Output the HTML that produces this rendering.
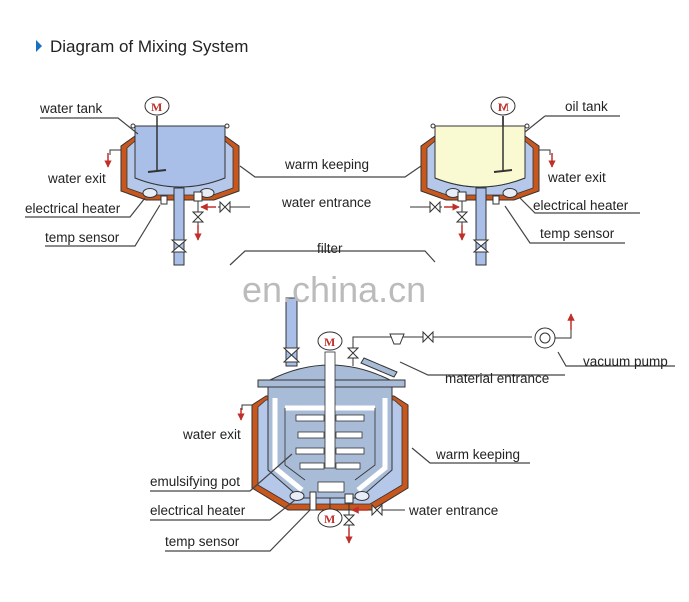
<!DOCTYPE html>
<html><head><style>
body{margin:0;background:#fff}
svg{display:block}
text{font-family:"Liberation Sans",sans-serif;font-size:13.5px;fill:#222}
</style></head><body>
<svg width="689" height="602" viewBox="0 0 689 602" xmlns="http://www.w3.org/2000/svg">
<defs>
<marker id="ar" viewBox="0 0 10 10" refX="9" refY="5" markerWidth="5" markerHeight="5" orient="auto"><path d="M0,0L10,5L0,10z" fill="#c0302a"/></marker>
<g id="tank">
  <path d="M135,136 L121,146 L121,191 L146,200 L214,200 L239,191 L239,146 L225,136Z" fill="#c8571e" stroke="#333" stroke-width="1"/>
  <path d="M135,141 L127,148 L127,188 L147,195 L213,195 L233,188 L233,148 L225,141Z" fill="#b5c8ea" stroke="#333" stroke-width="0.8"/>
  <path d="M135,126 L225,126 L225,178 Q180,196 135,178Z" fill="#a9bfe8" stroke="#333" stroke-width="1"/>
  <circle cx="133" cy="126" r="2" fill="#fff" stroke="#333"/><circle cx="227" cy="126" r="2" fill="#fff" stroke="#333"/>
  <ellipse cx="150" cy="193" rx="7" ry="4.5" fill="#e8eef8" stroke="#333"/>
  <ellipse cx="207" cy="193" rx="7" ry="4.5" fill="#e8eef8" stroke="#333"/>
  <rect x="174" y="188" width="10" height="77" fill="#a9bfe8" stroke="#333"/>
  <path d="M172,240 L186,252 L172,252 L186,240Z" fill="#fff" stroke="#333"/>
  <line x1="157" y1="116" x2="157" y2="172" stroke="#333" stroke-width="1.5"/>
  <line x1="148" y1="172" x2="166" y2="170" stroke="#333" stroke-width="2"/>
  <ellipse cx="157" cy="106" rx="12" ry="9" fill="#fff" stroke="#333"/>
  <text x="151" y="111" style="font-family:'Liberation Serif';font-size:12px;font-weight:bold;fill:#c0302a">M</text>
  <path d="M121,150 L110,150 L110,155" fill="none" stroke="#333"/>
  <line x1="108" y1="153" x2="108" y2="167" stroke="#c0302a" stroke-width="1.5" marker-end="url(#ar)"/>
  <rect x="161" y="196" width="6" height="8" fill="#fff" stroke="#333"/>
  <rect x="194" y="192" width="8" height="9" fill="#fff" stroke="#333"/>
  <line x1="198" y1="201" x2="198" y2="225" stroke="#333"/>
  <path d="M193,212 L203,222 L193,222 L203,212Z" fill="#fff" stroke="#333"/>
  <line x1="198" y1="225" x2="198" y2="240" stroke="#c0302a" stroke-width="1.5" marker-end="url(#ar)"/>
  <line x1="218" y1="207" x2="250" y2="207" stroke="#333"/>
  <path d="M220,202 L230,212 L230,202 L220,212Z" fill="#fff" stroke="#333"/>
  <line x1="216" y1="207" x2="201" y2="207" stroke="#c0302a" stroke-width="1.5" marker-end="url(#ar)"/>
</g>
</defs>

<path d="M36,40 L42,46 L36,52Z" fill="#1a6fc0"/>
<text x="50" y="52" style="font-size:17px">Diagram of Mixing System</text>

<use href="#tank"/>
<g transform="translate(660,0) scale(-1,1)"><use href="#tank"/></g>
<path d="M435,126 L525,126 L525,178 Q480,196 435,178Z" fill="#fafad2" stroke="#333"/>
<line x1="503" y1="116" x2="503" y2="172" stroke="#333" stroke-width="1.5"/>
<line x1="494" y1="172" x2="512" y2="170" stroke="#333" stroke-width="2"/>

<!-- bottom pot -->
<rect x="286" y="298" width="11" height="68" fill="#a9bfe8" stroke="#333"/>
<path d="M284,348 L299,362 L284,362 L299,348Z" fill="#fff" stroke="#333"/>
<path d="M266,396 L252,405 L252,488 L288,510 L372,510 L408,488 L408,405 L394,396Z" fill="#c8571e" stroke="#333"/>
<path d="M266,400 L258,407 L258,485 L290,504 L370,504 L402,485 L402,407 L394,400Z" fill="#b5c8ea" stroke="#333" stroke-width="0.8"/>
<path d="M268,387 L392,387 L392,470 L360,498 L300,498 L268,470Z" fill="#a8bcd8" stroke="#333"/>
<path d="M270,380 Q330,350 390,380Z" fill="#a8bcd8" stroke="#333"/>
<rect x="258" y="380" width="147" height="7" fill="#a8bcd8" stroke="#333"/>
<path d="M275,398 L275,468 L302,490 M385,398 L385,468 L358,490" fill="none" stroke="#fff" stroke-width="5"/>
<path d="M285,408 L375,408" fill="none" stroke="#fff" stroke-width="5"/>
<path d="M285,408 L285,465 L305,480 M375,408 L375,465 L355,480" fill="none" stroke="#333" stroke-width="0.8"/>
<g fill="#fff" stroke="#333" stroke-width="0.8">
<rect x="296" y="415" width="28" height="6"/><rect x="336" y="415" width="28" height="6"/>
<rect x="298" y="432" width="26" height="6"/><rect x="336" y="432" width="26" height="6"/>
<rect x="296" y="448" width="28" height="6"/><rect x="336" y="448" width="28" height="6"/>
<rect x="300" y="463" width="24" height="6"/><rect x="336" y="463" width="24" height="6"/>
<rect x="318" y="482" width="26" height="10"/>
<rect x="325" y="352" width="10" height="116"/>
</g>
<ellipse cx="330" cy="341" rx="12" ry="9" fill="#fff" stroke="#333"/>
<text x="324" y="346" style="font-family:'Liberation Serif';font-size:12px;font-weight:bold;fill:#c0302a">M</text>
<ellipse cx="297" cy="496" rx="7" ry="4.5" fill="#e8eef8" stroke="#333"/>
<ellipse cx="362" cy="496" rx="7" ry="4.5" fill="#e8eef8" stroke="#333"/>
<rect x="310" y="492" width="6" height="18" fill="#fff" stroke="#333"/>
<line x1="330" y1="498" x2="330" y2="510" stroke="#333"/>
<ellipse cx="330" cy="518" rx="12" ry="9" fill="#fff" stroke="#333"/>
<text x="324" y="523" style="font-family:'Liberation Serif';font-size:12px;font-weight:bold;fill:#c0302a">M</text>
<rect x="345" y="494" width="8" height="9" fill="#fff" stroke="#333"/>
<line x1="349" y1="503" x2="349" y2="528" stroke="#333"/>
<path d="M344,515 L354,525 L344,525 L354,515Z" fill="#fff" stroke="#333"/>
<line x1="349" y1="528" x2="349" y2="543" stroke="#c0302a" stroke-width="1.5" marker-end="url(#ar)"/>
<line x1="370" y1="510" x2="405" y2="510" stroke="#333"/>
<path d="M372,505 L382,515 L382,505 L372,515Z" fill="#fff" stroke="#333"/>
<line x1="368" y1="510" x2="352" y2="510" stroke="#c0302a" stroke-width="1.5" marker-end="url(#ar)"/>
<path d="M252,405 L242,405 L242,410" fill="none" stroke="#333"/>
<line x1="241" y1="408" x2="241" y2="420" stroke="#c0302a" stroke-width="1.5" marker-end="url(#ar)"/>
<!-- vacuum line -->
<path d="M353,366 L353,337 L532,337" fill="none" stroke="#333"/>
<path d="M348,348 L358,358 L348,358 L358,348Z" fill="#fff" stroke="#333"/>
<path d="M390,334 L404,334 L400,344 L394,344Z" fill="#fff" stroke="#333"/>
<path d="M423,332 L433,342 L433,332 L423,342Z" fill="#fff" stroke="#333"/>
<circle cx="545" cy="338" r="10" fill="#fff" stroke="#333"/><circle cx="545" cy="338" r="5" fill="#fff" stroke="#333"/>
<line x1="571" y1="330" x2="571" y2="314" stroke="#c0302a" stroke-width="1.5" marker-end="url(#ar)"/>
<path d="M555,338 L571,338 L571,330" fill="none" stroke="#333"/>
<path d="M364,358 L397,372 L394,377 L361,363Z" fill="#a8bcd8" stroke="#333"/>

<text x="242" y="302" style="font-size:36px;fill:#bbb">en.china.cn</text>

<!-- leaders -->
<g fill="none" stroke="#444" stroke-width="1.2">
<path d="M40,118 L118,118 L138,134"/>
<path d="M25,217 L130,217 L145,198"/>
<path d="M45,246 L135,246 L160,205"/>
<path d="M240,166 L255,177 L405,177 L421,166"/>
<path d="M230,265 L245,251 L425,251 L435,262"/>
<path d="M545,116 L620,116 M545,116 L525,132"/>
<path d="M520,198 L535,213 L640,213"/>
<path d="M505,206 L530,243 L625,243"/>
<path d="M400,362 L428,375 L565,375"/>
<path d="M558,352 L566,366 L675,366"/>
<path d="M412,448 L430,463 L530,463"/>
<path d="M150,491 L250,491 L292,454"/>
<path d="M150,520 L270,520 L295,500"/>
<path d="M165,551 L270,551 L310,510"/>
</g>

<text x="40" y="113">water tank</text>
<text x="48" y="183">water exit</text>
<text x="25" y="213">electrical heater</text>
<text x="45" y="242">temp sensor</text>
<text x="285" y="169">warm keeping</text>
<text x="282" y="207">water entrance</text>
<text x="317" y="253">filter</text>
<text x="565" y="111">oil tank</text>
<text x="548" y="182">water exit</text>
<text x="533" y="210">electrical heater</text>
<text x="540" y="238">temp sensor</text>
<text x="583" y="366">vacuum pump</text>
<text x="445" y="383">material entrance</text>
<text x="183" y="439">water exit</text>
<text x="436" y="459">warm keeping</text>
<text x="150" y="486">emulsifying pot</text>
<text x="150" y="515">electrical heater</text>
<text x="409" y="515">water entrance</text>
<text x="165" y="546">temp sensor</text>
</svg>
</body></html>
